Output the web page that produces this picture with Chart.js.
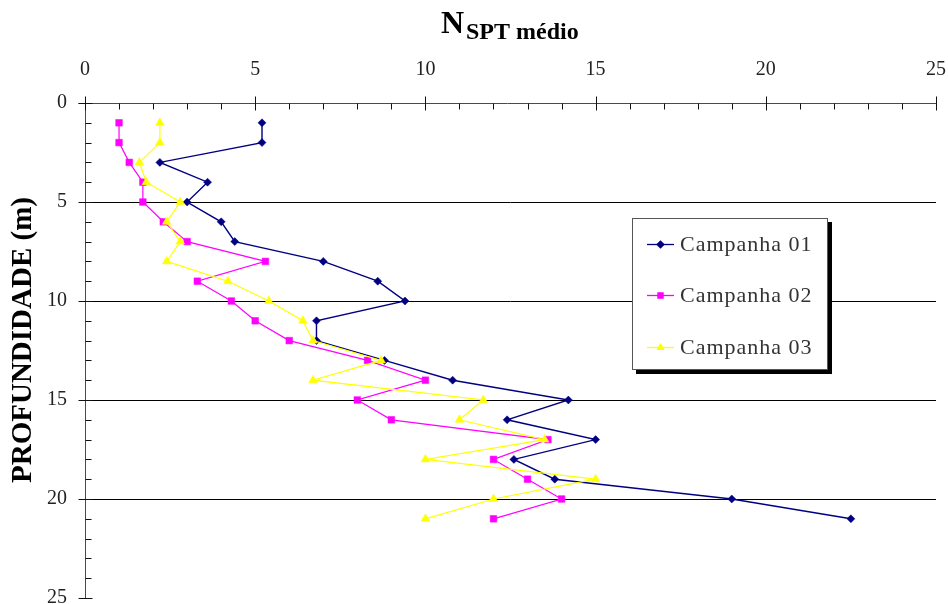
<!DOCTYPE html>
<html>
<head>
<meta charset="utf-8">
<script src="https://cdn.jsdelivr.net/npm/chart.js@4.4.1/dist/chart.umd.min.js"></script>
<style>
  html, body { margin: 0; padding: 0; background: #fff; }
  canvas { display: block; }
</style>
</head>
<body>
<canvas id="c" width="948" height="604"></canvas>
<script>
// Depth of each SPT reading (m)
const depths = [1, 2, 3, 4, 5, 6, 7, 8, 9, 10, 11, 12, 13, 14, 15, 16, 17, 18, 19, 20, 21];
// Mean N-SPT per campaign, one value per depth
const campanha01 = [5.2, 5.2, 2.2, 3.6, 3.0, 4.0, 4.4, 7.0, 8.6, 9.4, 6.8, 6.8, 8.8, 10.8, 14.2, 12.4, 15.0, 12.6, 13.8, 19.0, 22.5];
const campanha02 = [1.0, 1.0, 1.3, 1.7, 1.7, 2.3, 3.0, 5.3, 3.3, 4.3, 5.0, 6.0, 8.3, 10.0, 8.0, 9.0, 13.6, 12.0, 13.0, 14.0, 12.0];
const campanha03 = [2.2, 2.2, 1.6, 1.8, 2.8, 2.4, 2.8, 2.4, 4.2, 5.4, 6.4, 6.7, 8.7, 6.7, 11.7, 11.0, 13.5, 10.0, 15.0, 12.0, 10.0];
const seriesNames = ['Campanha 01', 'Campanha 02', 'Campanha 03'];
// Labelled (major) ticks on both axes; minor ticks every unit between them
const nsptTicks = [0, 5, 10, 15, 20, 25];
const depthTicks = [0, 5, 10, 15, 20, 25];

const SERIF = '"Liberation Serif", "Times New Roman", serif';
const colors = ['#000080', '#FF00FF', '#FFFF00'];
const shapes = ['rectRot', 'rect', 'triangle'];
const radii = [4, 4.7, 5];

const toPoints = vals => vals.map((v, i) => ({ x: v, y: depths[i] }));
const seriesValues = [campanha01, campanha02, campanha03];

const datasets = seriesValues.map((vals, i) => ({
  label: seriesNames[i],
  data: toPoints(vals),
  showLine: true,
  borderColor: colors[i],
  backgroundColor: colors[i],
  borderWidth: i === 0 ? 1.4 : 1.2,
  pointStyle: shapes[i],
  pointRadius: radii[i],
  pointBorderWidth: 0.5,
  pointBorderColor: colors[i],
  pointBackgroundColor: colors[i],
  tension: 0,
  order: 2 - i
}));

// Axis lines, crossing major ticks, inward minor ticks, title, axis title and legend box
const decor = {
  id: 'decor',
  beforeDatasetsDraw(chart) {
    const { ctx, chartArea: a, scales: { x, y } } = chart;
    ctx.save();
    ctx.lineWidth = 1;
    const top = Math.round(a.top) + 0.5;
    const left = Math.round(a.left) + 0.5;
    // axis lines
    ctx.strokeStyle = '#4a4a4a';
    ctx.beginPath();
    ctx.moveTo(left - 7, top); ctx.lineTo(Math.round(a.right) + 0.5, top);
    ctx.moveTo(left, top); ctx.lineTo(left, Math.round(a.bottom) + 0.5);
    ctx.stroke();
    ctx.strokeStyle = '#111';
    ctx.beginPath();
    for (let v = 0; v <= 25; v++) {
      const px = Math.round(x.getPixelForValue(v)) + 0.5;
      const major = nsptTicks.includes(v);
      ctx.moveTo(px, major ? top - 7 : top);
      ctx.lineTo(px, top + (major ? 7 : 6));
      const py = Math.round(y.getPixelForValue(v)) + 0.5;
      const majorY = depthTicks.includes(v);
      ctx.moveTo(majorY ? left - 7 : left, py);
      ctx.lineTo(left + (majorY ? 7 : 6), py);
    }
    ctx.stroke();
    ctx.restore();
  },
  afterDraw(chart) {
    const { ctx } = chart;
    ctx.save();
    // chart title: N with subscript
    ctx.fillStyle = '#000';
    ctx.textBaseline = 'alphabetic';
    ctx.textAlign = 'left';
    ctx.font = 'bold 32px ' + SERIF;
    ctx.fillText('N', 441, 33);
    ctx.font = 'bold 24px ' + SERIF;
    ctx.fillText('SPT médio', 466, 39);

    // vertical axis title
    ctx.save();
    ctx.translate(31, 340);
    ctx.rotate(-Math.PI / 2);
    ctx.textAlign = 'center';
    ctx.font = 'bold 29px ' + SERIF;
    ctx.fillText('PROFUNDIDADE (m)', 0, 0);
    ctx.restore();

    // legend box with drop shadow
    const bx = 632, by = 218, bw = 196, bh = 152;
    ctx.fillStyle = '#000';
    ctx.fillRect(bx + 4, by + 4, bw, bh);
    ctx.fillStyle = '#fff';
    ctx.fillRect(bx, by, bw, bh);
    ctx.strokeStyle = '#555';
    ctx.lineWidth = 1;
    ctx.strokeRect(bx + 0.5, by + 0.5, bw - 1, bh - 1);
    const rows = [244, 295, 347];
    ctx.font = '22px ' + SERIF;
    ctx.letterSpacing = '1px';
    ctx.textBaseline = 'middle';
    ctx.textAlign = 'left';
    seriesNames.forEach((name, i) => {
      const ry = rows[i] + 0.5;
      ctx.strokeStyle = colors[i];
      ctx.lineWidth = 1.3;
      ctx.beginPath();
      ctx.moveTo(647, ry); ctx.lineTo(674, ry);
      ctx.stroke();
      Chart.helpers.drawPoint(ctx, {
        pointStyle: shapes[i], radius: i === 1 ? 3.6 : 3.4, borderWidth: 0.5, rotation: 0
      }, 660.5, ry);
      ctx.fillStyle = colors[i];
      ctx.fill();
      ctx.fillStyle = '#333';
      ctx.fillText(name, 680, rows[i] + 1);
    });
    ctx.restore();
  }
};

new Chart(document.getElementById('c'), {
  type: 'scatter',
  data: { datasets },
  plugins: [decor],
  options: {
    responsive: false,
    animation: false,
    layout: { padding: { left: 0, top: 0, right: 12, bottom: 6 } },
    plugins: { legend: { display: false }, tooltip: { enabled: false }, title: { display: false } },
    scales: {
      x: {
        type: 'linear',
        position: 'top',
        min: 0, max: 25,
        grid: { display: false },
        border: { display: false },
        ticks: {
          stepSize: 1, autoSkip: false, maxRotation: 0,
          padding: 13,
          color: '#222',
          font: { family: SERIF, size: 20 },
          callback: v => (nsptTicks.includes(v) ? String(v) : '')
        },
        afterFit: s => { s.height = 103; s.paddingLeft = 0; s.paddingRight = 0; }
      },
      y: {
        type: 'linear',
        reverse: true,
        min: 0, max: 25,
        grid: {
          drawTicks: false,
          lineWidth: 1,
          color: c => (c.tick && c.tick.value % 5 === 0 && c.tick.value > 0 && c.tick.value < 25) ? '#000' : 'rgba(0,0,0,0)'
        },
        border: { display: false },
        ticks: {
          stepSize: 1, autoSkip: false,
          padding: 18,
          color: '#222',
          font: { family: SERIF, size: 20 },
          callback: v => (depthTicks.includes(v) ? String(v) : '')
        },
        afterFit: s => { s.width = 85; s.paddingTop = 0; s.paddingBottom = 0; }
      }
    }
  }
});
</script>
</body>
</html>
